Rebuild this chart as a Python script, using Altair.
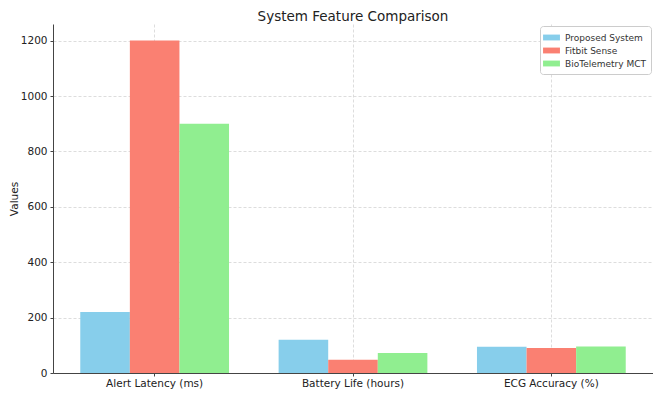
import altair as alt
import pandas as pd

categories = ["Alert Latency (ms)", "Battery Life (hours)", "ECG Accuracy (%)"]
systems = ["Proposed System", "Fitbit Sense", "BioTelemetry MCT"]
proposed = [220, 120, 95]
fitbit = [1200, 48, 90]
biotelemetry = [900, 72, 96]
colors = ["#87CEEB", "#FA8072", "#90EE90"]
y_ticks = [0, 200, 400, 600, 800, 1000, 1200]

rows = []
for sys_name, vals in zip(systems, [proposed, fitbit, biotelemetry]):
    for cat, v in zip(categories, vals):
        rows.append({"Feature": cat, "System": sys_name, "Value": v})
df = pd.DataFrame(rows)

font = "DejaVu Sans"

chart = alt.Chart(df).mark_bar().encode(
    x=alt.X(
        "Feature:N",
        sort=categories,
        scale=alt.Scale(paddingInner=0.25, paddingOuter=0.1375),
        axis=alt.Axis(
            title=None, labelAngle=0, grid=True, bandPosition=0.5,
            labelFontSize=10.5, labelPadding=2, tickSize=3,
            domainColor="#444", tickColor="#444", labelColor="#222",
            gridColor="#d4d4d4", gridDash=[3, 2], gridWidth=0.8,
        ),
    ),
    xOffset=alt.XOffset("System:N", sort=systems,
                        scale=alt.Scale(paddingInner=0, paddingOuter=0)),
    y=alt.Y(
        "Value:Q",
        scale=alt.Scale(domain=[0, 1260], nice=False, zero=True),
        axis=alt.Axis(
            title="Values", values=y_ticks, format="d", grid=True, tickSize=3,
            labelFontSize=10.5, labelPadding=3, titleFontSize=10.5,
            titleFontWeight="normal", titlePadding=1,
            domainColor="#444", tickColor="#444", labelColor="#222", titleColor="#222",
            gridColor="#d4d4d4", gridDash=[3, 2], gridWidth=0.8,
        ),
    ),
    color=alt.Color(
        "System:N", sort=systems,
        scale=alt.Scale(domain=systems, range=colors),
        legend=alt.Legend(
            title=None, orient="top-right", offset=2,
            symbolType="M-1.3,-0.45H1.3V0.45H-1.3Z", symbolSize=169, symbolStrokeWidth=0,
            labelFontSize=9, labelColor="#333", rowPadding=1,
            strokeColor="#cccccc", fillColor="white", cornerRadius=3,
            padding=5, labelOffset=7,
        ),
    ),
).properties(
    width=600,
    height=349,
    title=alt.TitleParams("System Feature Comparison", fontSize=13.5, fontWeight="normal",
                          color="#222", offset=1, anchor="middle"),
    autosize=alt.AutoSizeParams(type="none"),
    padding={"left": 45, "top": 16, "right": 0, "bottom": 17},
).configure(
    font=font,
).configure_view(
    stroke=None,
)

chart.save("out.html", embed_options={"renderer": "svg", "actions": False})
